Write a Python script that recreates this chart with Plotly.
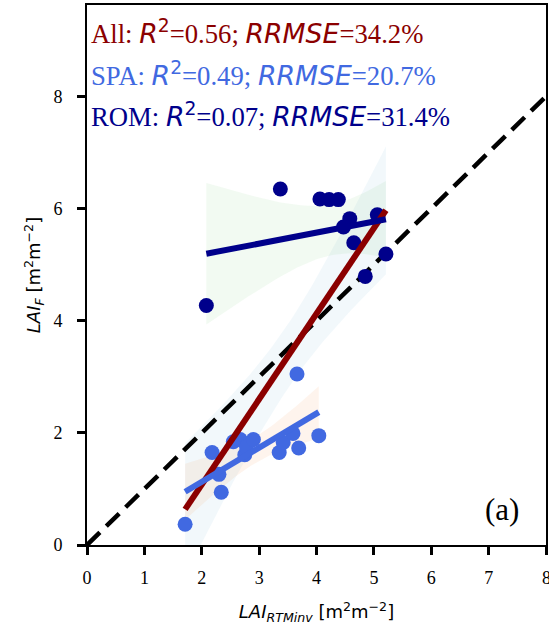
import numpy as np
import plotly.graph_objects as go

# ---- data ----
spa_x = [1.71, 2.34, 2.30, 2.18, 2.55, 2.67, 2.75, 2.78, 2.90, 3.35, 3.42, 3.59, 3.69, 3.66, 4.04]
spa_y = [0.37, 0.94, 1.26, 1.65, 1.84, 1.88, 1.61, 1.75, 1.88, 1.65, 1.83, 1.99, 1.73, 3.05, 1.95]
rom_x = [3.37, 4.06, 4.22, 4.38, 4.58, 4.47, 5.06, 4.65, 5.21, 4.85, 2.08]
rom_y = [6.35, 6.17, 6.16, 6.16, 5.82, 5.67, 5.89, 5.39, 5.19, 4.79, 4.27]

stats_text = {
    "All": ("0.56", "34.2%"),
    "SPA": ("0.49", "20.7%"),
    "ROM": ("0.07", "31.4%"),
}
x_ticks = [0, 1, 2, 3, 4, 5, 6, 7, 8]
y_ticks = [0, 2, 4, 6, 8]

C_ALL = "#8B0000"
C_SPA = "#4169E1"
C_ROM = "#00008B"


def fit(x, y, t):
    x = np.asarray(x, float)
    y = np.asarray(y, float)
    n = len(x)
    b, a = np.polyfit(x, y, 1)
    xs = np.linspace(x.min(), x.max(), 60)
    yh = a + b * xs
    res = y - (a + b * x)
    s = np.sqrt(np.sum(res ** 2) / (n - 2))
    sxx = np.sum((x - x.mean()) ** 2)
    se = s * np.sqrt(1.0 / n + (xs - x.mean()) ** 2 / sxx)
    return xs, yh, yh - t * se, yh + t * se


all_x = spa_x + rom_x
all_y = spa_y + rom_y

fig = go.Figure()


def band(xs, lo, hi, fill):
    fig.add_trace(go.Scatter(x=list(xs) + list(xs[::-1]), y=list(hi) + list(lo[::-1]),
                             fill="toself", fillcolor=fill, line=dict(width=0),
                             mode="lines", hoverinfo="skip", showlegend=False))


fa = fit(all_x, all_y, 2.056)
fs = fit(spa_x, spa_y, 2.145)
fr = fit(rom_x, rom_y, 2.262)

band(fa[0], fa[2], fa[3], "rgba(176,210,230,0.16)")
band(fr[0], fr[2], fr[3], "rgba(150,210,150,0.12)")
band(fs[0], fs[2], fs[3], "rgba(250,180,130,0.14)")

# 1:1 line
fig.add_trace(go.Scatter(x=[0, 8], y=[0, 8], mode="lines",
                         line=dict(color="black", width=4.5, dash="18px,9px"),
                         showlegend=False, hoverinfo="skip"))

fig.add_trace(go.Scatter(x=rom_x, y=rom_y, mode="markers",
                         marker=dict(color=C_ROM, size=15, line=dict(width=0)), showlegend=False))
fig.add_trace(go.Scatter(x=spa_x, y=spa_y, mode="markers",
                         marker=dict(color=C_SPA, size=15, line=dict(width=0)), showlegend=False))

fig.add_trace(go.Scatter(x=fa[0], y=fa[1], mode="lines", line=dict(color=C_ALL, width=6), showlegend=False))
fig.add_trace(go.Scatter(x=fr[0], y=fr[1], mode="lines", line=dict(color=C_ROM, width=6), showlegend=False))
fig.add_trace(go.Scatter(x=fs[0], y=fs[1], mode="lines", line=dict(color=C_SPA, width=6), showlegend=False))

SANS = "font-family:'DejaVu Sans'"


def stat_label(name):
    r2, rr = stats_text[name]
    return (f"{name}: <span style=\"{SANS}\"><i>R</i></span>"
            f"<sup><span style=\"{SANS}\">2</span></sup>={r2}; "
            f"<span style=\"{SANS}\"><i>RRMSE</i></span>={rr}")


for i, (name, col) in enumerate([("All", C_ALL), ("SPA", C_SPA), ("ROM", C_ROM)]):
    fig.add_annotation(text=stat_label(name), xref="paper", yref="paper",
                       x=0.0, xshift=2, y=1 - (i * 41.5 + 27) / 540, xanchor="left", yanchor="middle",
                       showarrow=False, font=dict(family="Liberation Serif", size=26.7, color=col))

fig.add_annotation(text="(a)", xref="paper", yref="paper", x=0.945, y=0.065,
                   xanchor="right", yanchor="middle", showarrow=False,
                   font=dict(family="Liberation Serif", size=31, color="black"))

TICK_SIZE = 18

# last x tick label (drawn at the very edge, partly cut like the reference)
fig.add_annotation(text=str(x_ticks[-1]), xref="x", yref="paper", x=x_ticks[-1], y=0,
                   yshift=-33, xanchor="center", yanchor="middle", showarrow=False,
                   font=dict(family="Liberation Serif", size=TICK_SIZE, color="black"))

axis_common = dict(showgrid=False, zeroline=False, showline=True, linecolor="black", linewidth=2,
                   mirror=True, ticks="outside", ticklen=8, tickwidth=2.5, tickcolor="black",
                   automargin=False,
                   tickfont=dict(family="Liberation Serif", size=TICK_SIZE, color="black"))

fig.update_xaxes(range=[0, 8], tickvals=x_ticks, ticktext=[str(v) for v in x_ticks[:-1]] + [""],
                 ticklabelstandoff=7,
                 title=dict(text="<i>LAI</i><sub><i>RTMinv</i></sub> [m<sup>2</sup>m<sup>\u22122</sup>]",
                            font=dict(family="DejaVu Sans", size=18, color="black"), standoff=19),
                 **axis_common)
fig.update_yaxes(range=[0, 9.63], tickvals=y_ticks, ticktext=[str(v) for v in y_ticks],
                 ticklabelstandoff=11,
                 title=dict(text="<i>LAI</i><sub><i>F</i></sub> [m<sup>2</sup>m<sup>\u22122</sup>]",
                            font=dict(family="DejaVu Sans", size=18, color="black"), standoff=8),
                 **axis_common)

fig.update_layout(width=549, height=628, margin=dict(l=87, r=3, t=5, b=83),
                  plot_bgcolor="white", paper_bgcolor="white")

fig.write_html("out.html", config={"displayModeBar": False},
               post_script="document.body.style.margin='0';")
